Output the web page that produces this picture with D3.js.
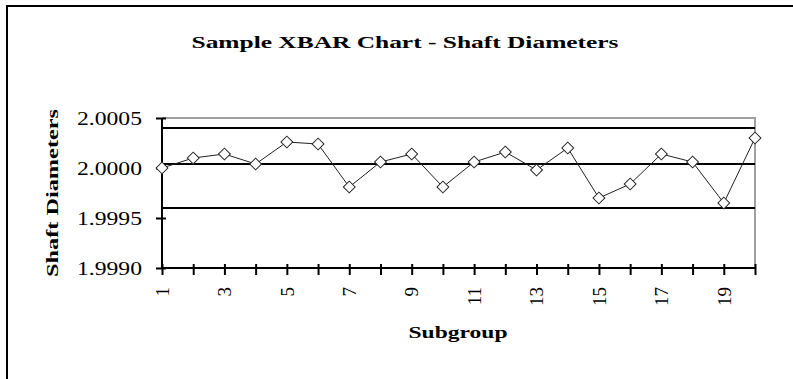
<!DOCTYPE html>
<html>
<head>
<meta charset="utf-8">
<script src="https://cdn.jsdelivr.net/npm/d3@7"></script>
<style>
  html, body { margin: 0; padding: 0; background: #fff; overflow: hidden; }
  text { font-family: "Liberation Serif", "Times New Roman", serif; fill: #000; }
</style>
</head>
<body>
<svg id="chart" width="793" height="379"></svg>
<script>
// Subgroup numbers and their sample means
const subgroups = [1, 2, 3, 4, 5, 6, 7, 8, 9, 10, 11, 12, 13, 14, 15, 16, 17, 18, 19, 20];
const xbar = [2.00000, 2.00010, 2.00014, 2.00004, 2.00026, 2.00024, 1.99981, 2.00006, 2.00014, 1.99981,
              2.00006, 2.00016, 1.99998, 2.00020, 1.99970, 1.99984, 2.00014, 2.00006, 1.99965, 2.00030];
// Control limits: upper, centre line, lower
const limits = [2.0004, 2.00004, 1.9996];
// Axis ticks and labels
const yTicks = [1.9990, 1.9995, 2.0000, 2.0005];
const xLabelled = [1, 3, 5, 7, 9, 11, 13, 15, 17, 19];
const titleText = "Sample XBAR Chart -  Shaft Diameters";
const yTitle = "Shaft Diameters";
const xTitle = "Subgroup";

const svg = d3.select("#chart");
const plot = { left: 162, right: 755, top: 118, bottom: 268 };

const x = d3.scalePoint().domain(subgroups).range([plot.left, plot.right]);
const y = d3.scaleLinear().domain([1.9990, 2.0005]).range([plot.bottom, plot.top]);

// Outer frame (runs off the right and bottom edges)
svg.append("rect")
  .attr("x", 7).attr("y", 6).attr("width", 820).attr("height", 420)
  .attr("fill", "none").attr("stroke", "#000").attr("stroke-width", 2);

// Title
svg.append("text")
  .attr("x", 405).attr("y", 48)
  .attr("text-anchor", "middle")
  .attr("font-size", 17).attr("font-weight", "bold")
  .attr("textLength", 427).attr("lengthAdjust", "spacingAndGlyphs")
  .text(titleText);

// Plot-area border on top and right (grey)
svg.append("path")
  .attr("d", `M${plot.left},${plot.top}H${plot.right}V${plot.bottom}`)
  .attr("fill", "none").attr("stroke", "#a0a0a0").attr("stroke-width", 2);

// Control limit lines
svg.append("g").selectAll("line").data(limits).join("line")
  .attr("x1", plot.left).attr("x2", plot.right)
  .attr("y1", d => y(d)).attr("y2", d => y(d))
  .attr("stroke", "#000").attr("stroke-width", 2);

// Y axis
const yAxis = svg.append("g")
  .attr("transform", `translate(${plot.left},0)`)
  .call(d3.axisLeft(y).tickValues(yTicks).tickFormat(d3.format(".4f")).tickSize(6).tickPadding(15));
yAxis.select(".domain").attr("stroke", "#000").attr("stroke-width", 2)
  .attr("d", `M0,${plot.top}V${plot.bottom}`);
yAxis.selectAll(".tick line").attr("x1", 4).attr("x2", -6).attr("stroke", "#000").attr("stroke-width", 2);
yAxis.selectAll(".tick text")
  .attr("x", -20)
  .attr("font-size", 19)
  .attr("textLength", 65).attr("lengthAdjust", "spacingAndGlyphs")
  .attr("fill", "#000");

// X axis
const xAxis = svg.append("g")
  .attr("transform", `translate(0,${plot.bottom})`)
  .call(d3.axisBottom(x).tickSize(6).tickFormat(d => xLabelled.includes(d) ? d : ""));
xAxis.select(".domain").attr("stroke", "#000").attr("stroke-width", 2)
  .attr("d", `M${plot.left},0H${plot.right}`);
xAxis.selectAll(".tick line").attr("y1", -4).attr("y2", 7).attr("stroke", "#000").attr("stroke-width", 2);
xAxis.selectAll(".tick text")
  .attr("font-size", 19)
  .attr("transform", "rotate(-90)")
  .attr("text-anchor", "end")
  .attr("x", -19).attr("y", 0).attr("dy", "0.33em")
  .attr("fill", "#000");

// Axis titles
svg.append("text")
  .attr("transform", `translate(58,193) rotate(-90)`)
  .attr("text-anchor", "middle")
  .attr("font-size", 17).attr("font-weight", "bold")
  .attr("textLength", 168).attr("lengthAdjust", "spacingAndGlyphs")
  .text(yTitle);

svg.append("text")
  .attr("x", 458).attr("y", 338)
  .attr("text-anchor", "middle")
  .attr("font-size", 17).attr("font-weight", "bold")
  .attr("textLength", 99).attr("lengthAdjust", "spacingAndGlyphs")
  .text(xTitle);

// XBAR series line
const line = d3.line().x((d, i) => x(subgroups[i])).y(d => y(d));
svg.append("path")
  .datum(xbar)
  .attr("d", line)
  .attr("fill", "none").attr("stroke", "#222").attr("stroke-width", 1);

// Diamond markers
const diamond = d3.symbol().type(d3.symbolSquare).size(70);
svg.append("g").selectAll("path").data(xbar).join("path")
  .attr("d", diamond)
  .attr("transform", (d, i) => `translate(${x(subgroups[i])},${y(d)}) rotate(45)`)
  .attr("fill", "#fff").attr("stroke", "#222").attr("stroke-width", 1);
</script>
</body>
</html>
